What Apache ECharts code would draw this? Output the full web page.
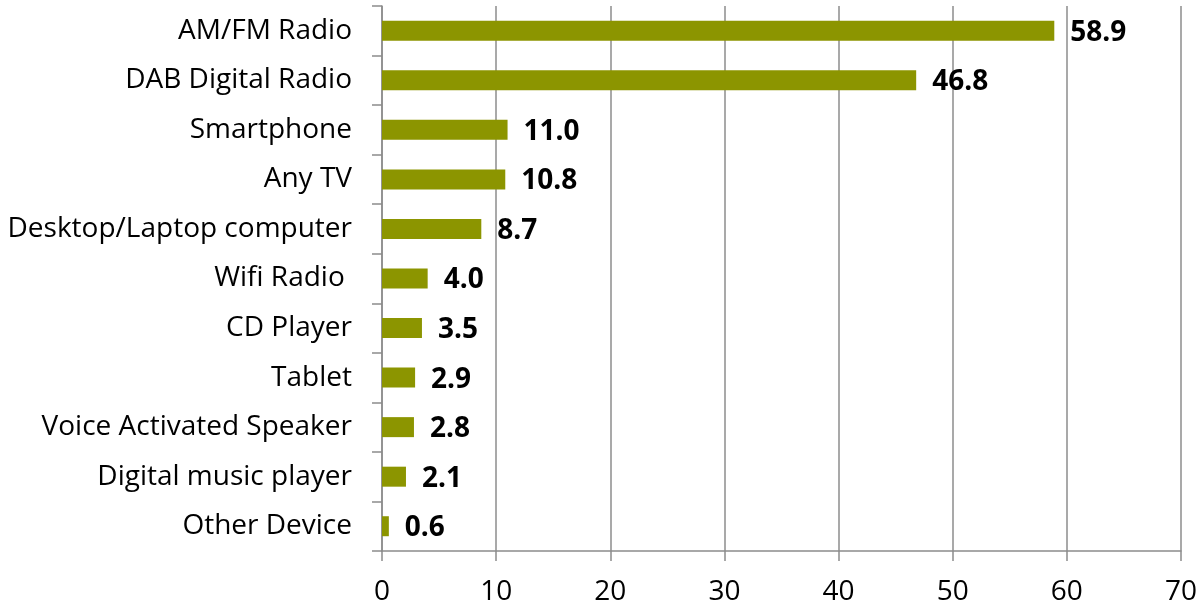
<!DOCTYPE html>
<html>
<head>
<meta charset="utf-8">
<script src="https://cdn.jsdelivr.net/npm/echarts@6/dist/echarts.min.js"></script>
<style>
  html, body { margin: 0; padding: 0; background: #fff; }
  #chart { width: 1200px; height: 606px; }
</style>
</head>
<body>
<div id="chart"></div>
<script>
const devices = [
    'AM/FM Radio', 'DAB Digital Radio', 'Smartphone', 'Any TV',
    'Desktop/Laptop computer', 'Wifi Radio ', 'CD Player', 'Tablet',
    'Voice Activated Speaker', 'Digital music player', 'Other Device'
];
const shares = [58.9, 46.8, 11.0, 10.8, 8.7, 4.0, 3.5, 2.9, 2.8, 2.1, 0.6];
const xTicks = { min: 0, max: 70, interval: 10 };

const fontFamily = '"Open Sans", sans-serif';
const gray = '#8c8c8c';

const chart = echarts.init(document.getElementById('chart'));
chart.setOption({
    animation: false,
    grid: { left: 382, right: 17, top: 6, bottom: 55, containLabel: false },
    xAxis: {
        type: 'value',
        min: xTicks.min,
        max: xTicks.max,
        interval: xTicks.interval,
        axisLine: { show: true, lineStyle: { color: gray, width: 1.5 } },
        axisTick: { show: true, length: 10, lineStyle: { color: gray, width: 1.5 } },
        splitLine: { show: true, lineStyle: { color: gray, width: 1.5 } },
        axisLabel: { color: '#000', fontSize: 28, fontFamily: fontFamily, margin: 27 }
    },
    yAxis: {
        type: 'category',
        data: devices,
        inverse: true,
        axisLine: { show: true, lineStyle: { color: gray, width: 1.5 } },
        axisTick: { show: true, length: 10, lineStyle: { color: gray, width: 1.5 } },
        axisLabel: { color: '#000', fontSize: 28, fontFamily: fontFamily, margin: 30 }
    },
    series: [{
        type: 'bar',
        data: shares,
        barWidth: 20,
        itemStyle: { color: '#8c9500' },
        label: {
            show: true,
            position: 'right',
            distance: 16,
            offset: [0, 2],
            color: '#000',
            fontSize: 28,
            fontWeight: 'bold',
            fontFamily: fontFamily,
            formatter: p => p.value.toFixed(1)
        }
    }]
});
</script>
</body>
</html>
